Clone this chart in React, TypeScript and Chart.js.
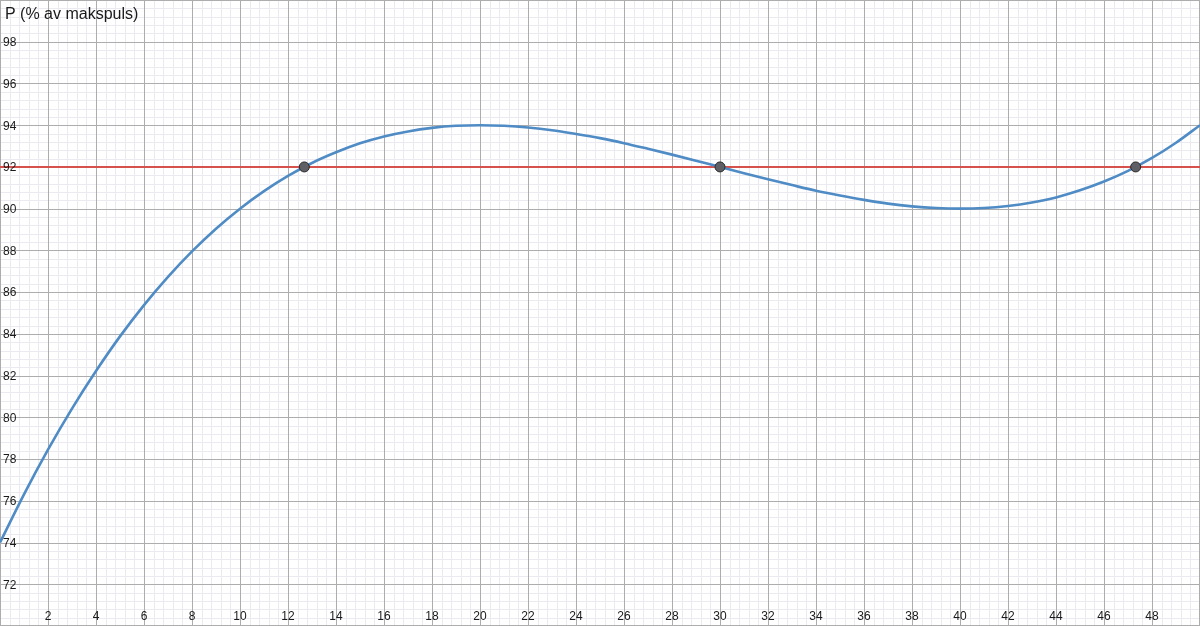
import React, { useEffect, useRef } from "react";
import { Chart, registerables } from "chart.js";

Chart.register(...registerables);

// Curve P(x) at each whole x (minutes)
const curveX: number[] = [
  0, 1, 2, 3, 4, 5, 6, 7, 8, 9, 10, 11, 12, 13, 14, 15, 16, 17, 18, 19, 20, 21, 22, 23, 24, 25,
  26, 27, 28, 29, 30, 31, 32, 33, 34, 35, 36, 37, 38, 39, 40, 41, 42, 43, 44, 45, 46, 47, 48, 49, 50,
];
const curveY: number[] = [
  74.0, 76.31, 78.45, 80.42, 82.22, 83.88, 85.38, 86.73, 87.95, 89.04, 90.0, 90.84, 91.57, 92.19,
  92.7, 93.13, 93.46, 93.7, 93.87, 93.97, 94.0, 93.97, 93.89, 93.76, 93.58, 93.38, 93.14, 92.87,
  92.59, 92.3, 92.0, 91.7, 91.41, 91.13, 90.86, 90.63, 90.42, 90.24, 90.11, 90.03, 90.0, 90.03,
  90.13, 90.3, 90.54, 90.88, 91.3, 91.81, 92.43, 93.16, 94.0,
];

// Horizontal reference line
const levelX: number[] = [0, 50];
const levelY: number[] = [92, 92];

// Intersection points
const pointsX: number[] = [12.68, 30, 47.32];
const pointsY: number[] = [92, 92, 92];

// Axis ranges and tick labels
const xRange: number[] = [0, 50];
const yRange: number[] = [70, 100];
const xTickLabels: number[] = [2, 4, 6, 8, 10, 12, 14, 16, 18, 20, 22, 24, 26, 28, 30, 32, 34, 36, 38, 40, 42, 44, 46, 48];
const yTickLabels: number[] = [72, 74, 76, 78, 80, 82, 84, 86, 88, 90, 92, 94, 96, 98];
const majorStep = 2;
const minorStep = 0.4;
const yTitle = "P (% av makspuls)";

const FONT = '"Liberation Sans", Arial, Helvetica, sans-serif';

const gridPlugin = {
  id: "geoGrid",
  beforeDatasetsDraw(chart: any) {
    const ctx: CanvasRenderingContext2D = chart.ctx;
    const xs = chart.scales.x;
    const ys = chart.scales.y;
    const { left, right, top, bottom } = chart.chartArea;
    ctx.save();
    ctx.fillStyle = "#ffffff";
    ctx.fillRect(left, top, right - left, bottom - top);

    const lines = (step: number, color: string, width: number) => {
      ctx.strokeStyle = color;
      ctx.lineWidth = width;
      ctx.beginPath();
      const nx = Math.round((xRange[1] - xRange[0]) / step);
      for (let i = 0; i <= nx; i++) {
        const v = xRange[0] + i * step;
        let p = Math.round(xs.getPixelForValue(v)) + 0.5;
        if (p > right) p = right - 0.5;
        ctx.moveTo(p, top);
        ctx.lineTo(p, bottom);
      }
      const ny = Math.round((yRange[1] - yRange[0]) / step);
      for (let i = 0; i <= ny; i++) {
        const v = yRange[0] + i * step;
        let p = Math.round(ys.getPixelForValue(v)) + 0.5;
        if (p > bottom) p = bottom - 0.5;
        ctx.moveTo(left, p);
        ctx.lineTo(right, p);
      }
      ctx.stroke();
    };
    lines(minorStep, "#ebeaf1", 1);
    lines(majorStep, "#adadad", 1);
    ctx.restore();
  },
  afterDatasetsDraw(chart: any) {
    const ctx: CanvasRenderingContext2D = chart.ctx;
    const xs = chart.scales.x;
    const ys = chart.scales.y;
    const { left, top, bottom } = chart.chartArea;
    ctx.save();
    ctx.fillStyle = "#1a1a1a";
    ctx.font = `12px ${FONT}`;
    ctx.textAlign = "left";
    ctx.textBaseline = "middle";
    yTickLabels.forEach((v) => {
      ctx.fillText(String(v), left + 3, ys.getPixelForValue(v) + 1);
    });
    ctx.textAlign = "center";
    ctx.textBaseline = "alphabetic";
    xTickLabels.forEach((v) => {
      ctx.fillText(String(v), xs.getPixelForValue(v), bottom - 6);
    });
    ctx.textAlign = "left";
    ctx.font = `16px ${FONT}`;
    ctx.fillText(yTitle, left + 5, top + 19);
    ctx.restore();
  },
};

export default function App() {
  const canvasRef = useRef<HTMLCanvasElement | null>(null);

  useEffect(() => {
    document.body.style.margin = "0";
    const canvas = canvasRef.current;
    if (!canvas) return;
    const chart = new Chart(canvas, {
      type: "scatter",
      data: {
        datasets: [
          {
            label: "P = 92",
            data: levelX.map((x, i) => ({ x, y: levelY[i] })),
            showLine: true,
            borderColor: "#d6504c",
            borderWidth: 2,
            pointRadius: 0,
            order: 3,
          },
          {
            label: "P(x)",
            data: curveX.map((x, i) => ({ x, y: curveY[i] })),
            showLine: true,
            borderColor: "#4f8bc4",
            borderWidth: 2.6,
            pointRadius: 0,
            cubicInterpolationMode: "monotone",
            order: 2,
          },
          {
            label: "Skjæringspunkter",
            data: pointsX.map((x, i) => ({ x, y: pointsY[i] })),
            showLine: false,
            backgroundColor: "#5f5f66",
            borderColor: "#2a2a2a",
            borderWidth: 1,
            pointRadius: 5,
            order: 1,
          },
        ],
      },
      options: {
        animation: false,
        responsive: true,
        maintainAspectRatio: false,
        layout: { padding: 0, autoPadding: false },
        plugins: {
          legend: { display: false },
          tooltip: { enabled: false },
          title: { display: false },
        },
        scales: {
          x: { type: "linear", min: xRange[0], max: xRange[1], display: false },
          y: { type: "linear", min: yRange[0], max: yRange[1], display: false },
        },
      },
      plugins: [gridPlugin],
    });
    return () => chart.destroy();
  }, []);

  return (
    <div style={{ position: "fixed", left: 0, top: 0, width: 1200, height: 626, background: "#fff" }}>
      <canvas ref={canvasRef} />
    </div>
  );
}
